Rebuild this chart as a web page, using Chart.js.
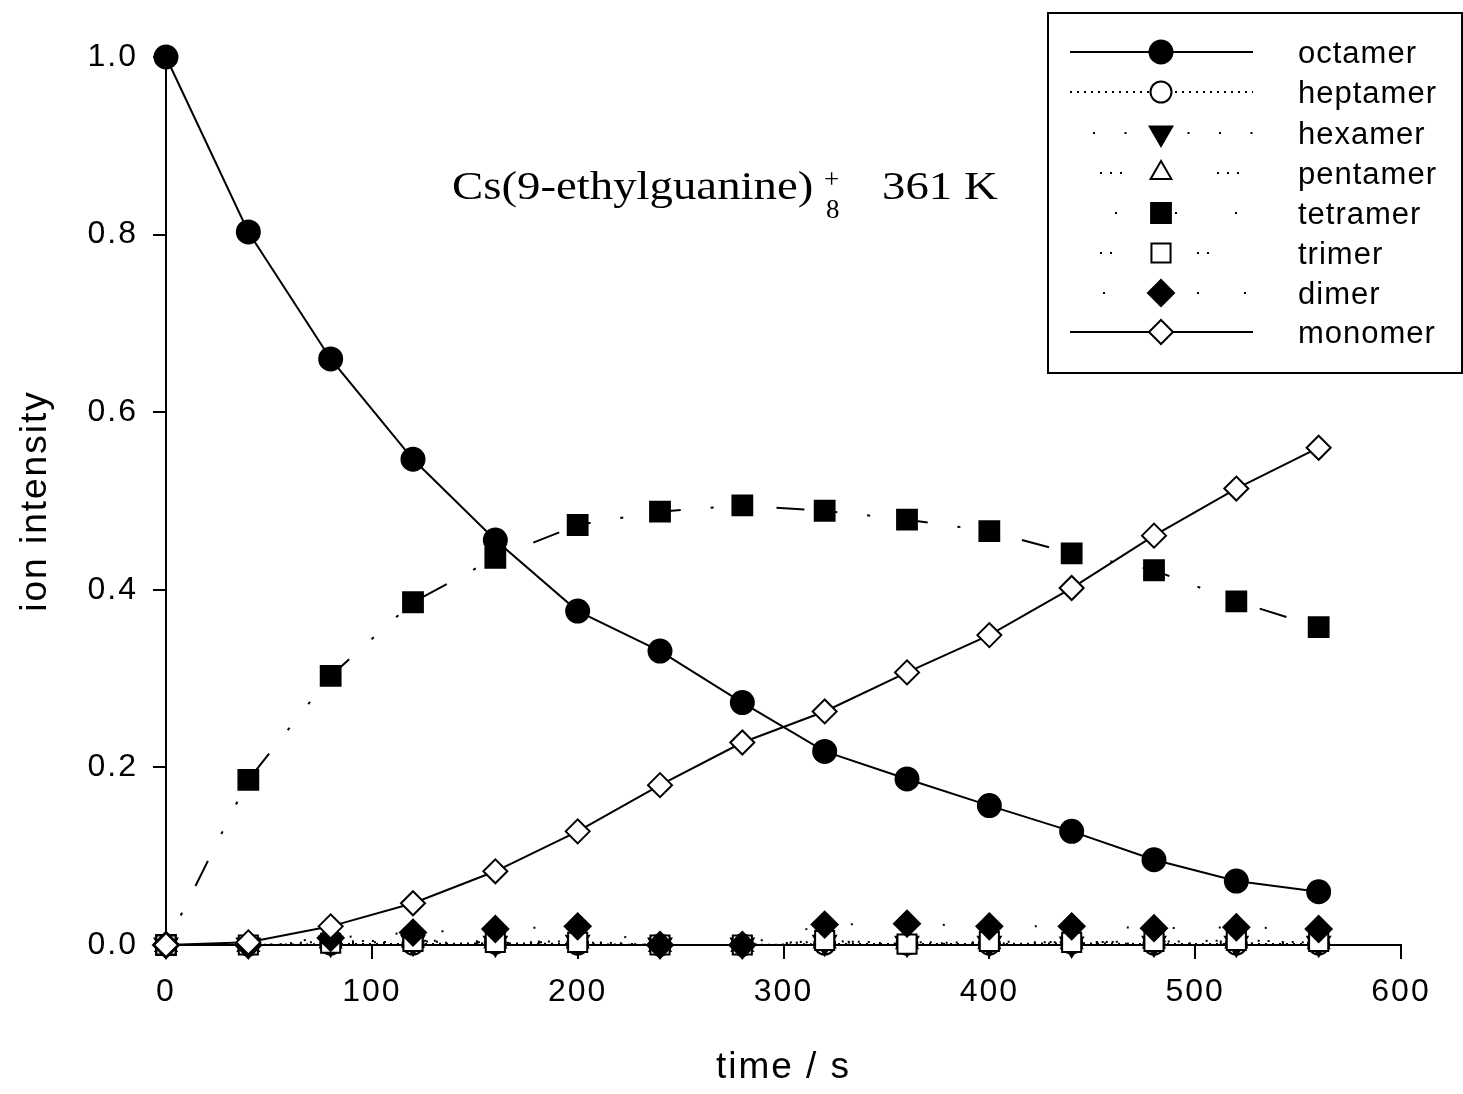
<!DOCTYPE html>
<html>
<head>
<meta charset="utf-8">
<script src="https://cdn.jsdelivr.net/npm/chart.js@4/dist/chart.umd.min.js"></script>
<style>
  html, body { margin: 0; padding: 0; background: #fff; }
  #c { display: block; }
</style>
</head>
<body>
<canvas id="c" width="1463" height="1094"></canvas>
<script>
// ---- data ----
const times    = [0, 40, 80, 120, 160, 200, 240, 280, 320, 360, 400, 440, 480, 520, 560];
const octamer  = [1.000, 0.803, 0.660, 0.547, 0.456, 0.376, 0.331, 0.273, 0.218, 0.187, 0.157, 0.128, 0.096, 0.072, 0.060];
const heptamer = [0.000, 0.000, 0.001, 0.001, 0.002, 0.001, 0.000, 0.000, 0.001, 0.001, 0.001, 0.002, 0.001, 0.001, 0.001];
const hexamer  = [0.000, 0.000, 0.002, 0.003, 0.002, 0.003, 0.000, 0.000, 0.003, 0.002, 0.002, 0.001, 0.002, 0.002, 0.002];
const pentamer = [0.000, 0.000, 0.004, 0.005, 0.004, 0.004, 0.000, 0.000, 0.004, 0.003, 0.003, 0.003, 0.004, 0.004, 0.003];
const tetramer = [0.000, 0.186, 0.303, 0.386, 0.436, 0.473, 0.488, 0.495, 0.489, 0.479, 0.466, 0.441, 0.422, 0.387, 0.358];
const trimer   = [0.000, 0.000, 0.002, 0.004, 0.003, 0.003, 0.000, 0.000, 0.005, 0.001, 0.004, 0.003, 0.004, 0.005, 0.004];
const dimer    = [0.000, 0.000, 0.008, 0.014, 0.018, 0.021, 0.000, 0.000, 0.023, 0.024, 0.021, 0.021, 0.019, 0.020, 0.018];
const monomer  = [0.000, 0.003, 0.021, 0.047, 0.083, 0.128, 0.180, 0.228, 0.263, 0.307, 0.349, 0.402, 0.461, 0.514, 0.560];

const seriesNames = ['octamer', 'heptamer', 'hexamer', 'pentamer', 'tetramer', 'trimer', 'dimer', 'monomer'];
const seriesData  = [octamer, heptamer, hexamer, pentamer, tetramer, trimer, dimer, monomer];
const xTicks = [0, 100, 200, 300, 400, 500, 600];
const yTicks = [0.0, 0.2, 0.4, 0.6, 0.8, 1.0];
const xTitle = 'time / s';
const yTitle = 'ion intensity';

// ---- styles ----
const styles = [
  { shape: 'circle',   filled: true,  r: 11.5, dash: [],                         ldash: [],                   loff: 0 },
  { shape: 'circle',   filled: false, r: 10.5, dash: [2, 5],                     ldash: [2, 5],               loff: 0 },
  { shape: 'triangle', filled: true,  r: 13,   dash: [2, 29], rot: 180,          ldash: [2, 29.5],            loff: 8.5 },
  { shape: 'triangle', filled: false, r: 12,   dash: [2, 8, 2, 8, 2, 40],        ldash: [2, 8, 2, 8, 2, 95],  loff: 87 },
  { shape: 'rect',     filled: true,  r: 14,   dash: [3, 30, 3, 30, 28, 30],     ldash: [2, 58],              loff: 15 },
  { shape: 'rect',     filled: false, r: 13.5, dash: [2, 8, 2, 40],              ldash: [2, 8, 2, 85],        loff: 67 },
  { shape: 'rectRot',  filled: true,  r: 13,   dash: [2, 44],                    ldash: [2, 45],              loff: 14 },
  { shape: 'rectRot',  filled: false, r: 12,   dash: [],                         ldash: [],                   loff: 0 }
];

const datasets = seriesNames.map((name, i) => ({
  label: name,
  data: times.map((t, k) => ({ x: t, y: seriesData[i][k] })),
  borderColor: '#000',
  borderWidth: 2,
  borderDash: styles[i].dash,
  backgroundColor: styles[i].filled ? '#000' : '#fff',
  pointStyle: styles[i].shape,
  pointRotation: styles[i].rot || 0,
  pointRadius: styles[i].r,
  pointBorderWidth: 2,
  pointBorderColor: '#000',
  pointBackgroundColor: styles[i].filled ? '#000' : '#fff',
  tension: 0,
  clip: false,
  order: seriesNames.length - i
}));

function drawMarker(ctx, st, x, y) {
  const r = st.r;
  ctx.save();
  ctx.setLineDash([]);
  ctx.lineWidth = 2;
  ctx.strokeStyle = '#000';
  ctx.fillStyle = st.filled ? '#000' : '#fff';
  ctx.beginPath();
  if (st.shape === 'circle') {
    ctx.arc(x, y, r, 0, Math.PI * 2);
  } else if (st.shape === 'rect') {
    const s = Math.SQRT1_2 * r;
    ctx.rect(x - s, y - s, 2 * s, 2 * s);
  } else if (st.shape === 'rectRot') {
    ctx.moveTo(x - r, y); ctx.lineTo(x, y - r); ctx.lineTo(x + r, y); ctx.lineTo(x, y + r);
  } else if (st.shape === 'triangle') {
    const rad = ((st.rot || 0) * Math.PI) / 180;
    for (let k = 0; k < 3; k++) {
      const a = rad + k * 2 * Math.PI / 3;
      const px = x + Math.sin(a) * r, py = y - Math.cos(a) * r;
      if (k === 0) ctx.moveTo(px, py); else ctx.lineTo(px, py);
    }
  }
  ctx.closePath();
  ctx.fill();
  ctx.stroke();
  ctx.restore();
}

const textSpacing = {
  id: 'textSpacing',
  beforeDraw(chart) { chart.ctx.letterSpacing = '2px'; },
  afterDraw(chart) { chart.ctx.letterSpacing = '0px'; }
};

const extras = {
  id: 'extras',
  afterDraw(chart) {
    const ctx = chart.ctx;
    ctx.save();
    ctx.letterSpacing = '0px';
    ctx.strokeStyle = '#000';
    ctx.lineWidth = 2;
    ctx.strokeRect(1048, 13, 414, 360);
    const rows = [52, 92, 133, 173, 213, 253, 293, 332];
    seriesNames.forEach((name, i) => {
      const y = rows[i];
      ctx.save();
      ctx.setLineDash(styles[i].ldash);
      ctx.lineDashOffset = styles[i].loff;
      ctx.lineWidth = 2;
      ctx.beginPath();
      ctx.moveTo(1070, y);
      ctx.lineTo(1253, y);
      ctx.stroke();
      ctx.restore();
      drawMarker(ctx, styles[i], 1161, y);
      ctx.save();
      ctx.letterSpacing = '1px';
      ctx.fillStyle = '#000';
      ctx.font = '31px "Liberation Sans", Arial, sans-serif';
      ctx.textAlign = 'left';
      ctx.textBaseline = 'middle';
      ctx.fillText(name, 1298, y + 2);
      ctx.restore();
    });
    // annotation
    ctx.fillStyle = '#000';
    ctx.textAlign = 'left';
    ctx.textBaseline = 'alphabetic';
    ctx.save();
    ctx.translate(452, 199);
    ctx.scale(1.17, 1);
    ctx.font = '40px "Liberation Serif", "Times New Roman", serif';
    ctx.fillText('Cs(9-ethylguanine)', 0, 0);
    ctx.restore();
    ctx.font = '27px "Liberation Serif", "Times New Roman", serif';
    ctx.fillText('+', 824, 188);
    ctx.fillText('8', 826, 218);
    ctx.save();
    ctx.translate(882, 199);
    ctx.scale(1.17, 1);
    ctx.font = '40px "Liberation Serif", "Times New Roman", serif';
    ctx.fillText('361 K', 0, 0);
    ctx.restore();
    ctx.restore();
  }
};

const tickFont = { family: '"Liberation Sans", Arial, sans-serif', size: 32 };
const titleFont = { family: '"Liberation Sans", Arial, sans-serif', size: 37 };

new Chart(document.getElementById('c'), {
  type: 'line',
  data: { datasets },
  options: {
    responsive: false,
    animation: false,
    layout: { padding: { top: 57, right: 62, left: 0, bottom: 0 } },
    plugins: { legend: { display: false }, tooltip: { enabled: false } },
    scales: {
      x: {
        type: 'linear', min: 0, max: 600,
        afterBuildTicks: s => { s.ticks = xTicks.map(v => ({ value: v })); },
        ticks: { color: '#000', font: tickFont, padding: 14, maxRotation: 0, callback: v => String(v) },
        grid: { drawOnChartArea: false, drawTicks: true, tickLength: 14, color: '#000', lineWidth: 2 },
        border: { display: true, color: '#000', width: 2 },
        title: { display: true, text: xTitle, color: '#000', font: titleFont, padding: { top: 0, bottom: 4 } },
        afterFit: s => { s.height = 149; }
      },
      y: {
        type: 'linear', min: 0, max: 1,
        afterBuildTicks: s => { s.ticks = yTicks.map(v => ({ value: v })); },
        ticks: { color: '#000', font: tickFont, padding: 15, callback: v => Number(v).toFixed(1) },
        grid: { drawOnChartArea: false, drawTicks: true, tickLength: 13, color: '#000', lineWidth: 2 },
        border: { display: true, color: '#000', width: 2 },
        title: { display: true, text: yTitle, color: '#000', font: titleFont, padding: { top: 14, bottom: 0 } },
        afterFit: s => { s.width = 166; }
      }
    }
  },
  plugins: [textSpacing, extras]
});
</script>
</body>
</html>
